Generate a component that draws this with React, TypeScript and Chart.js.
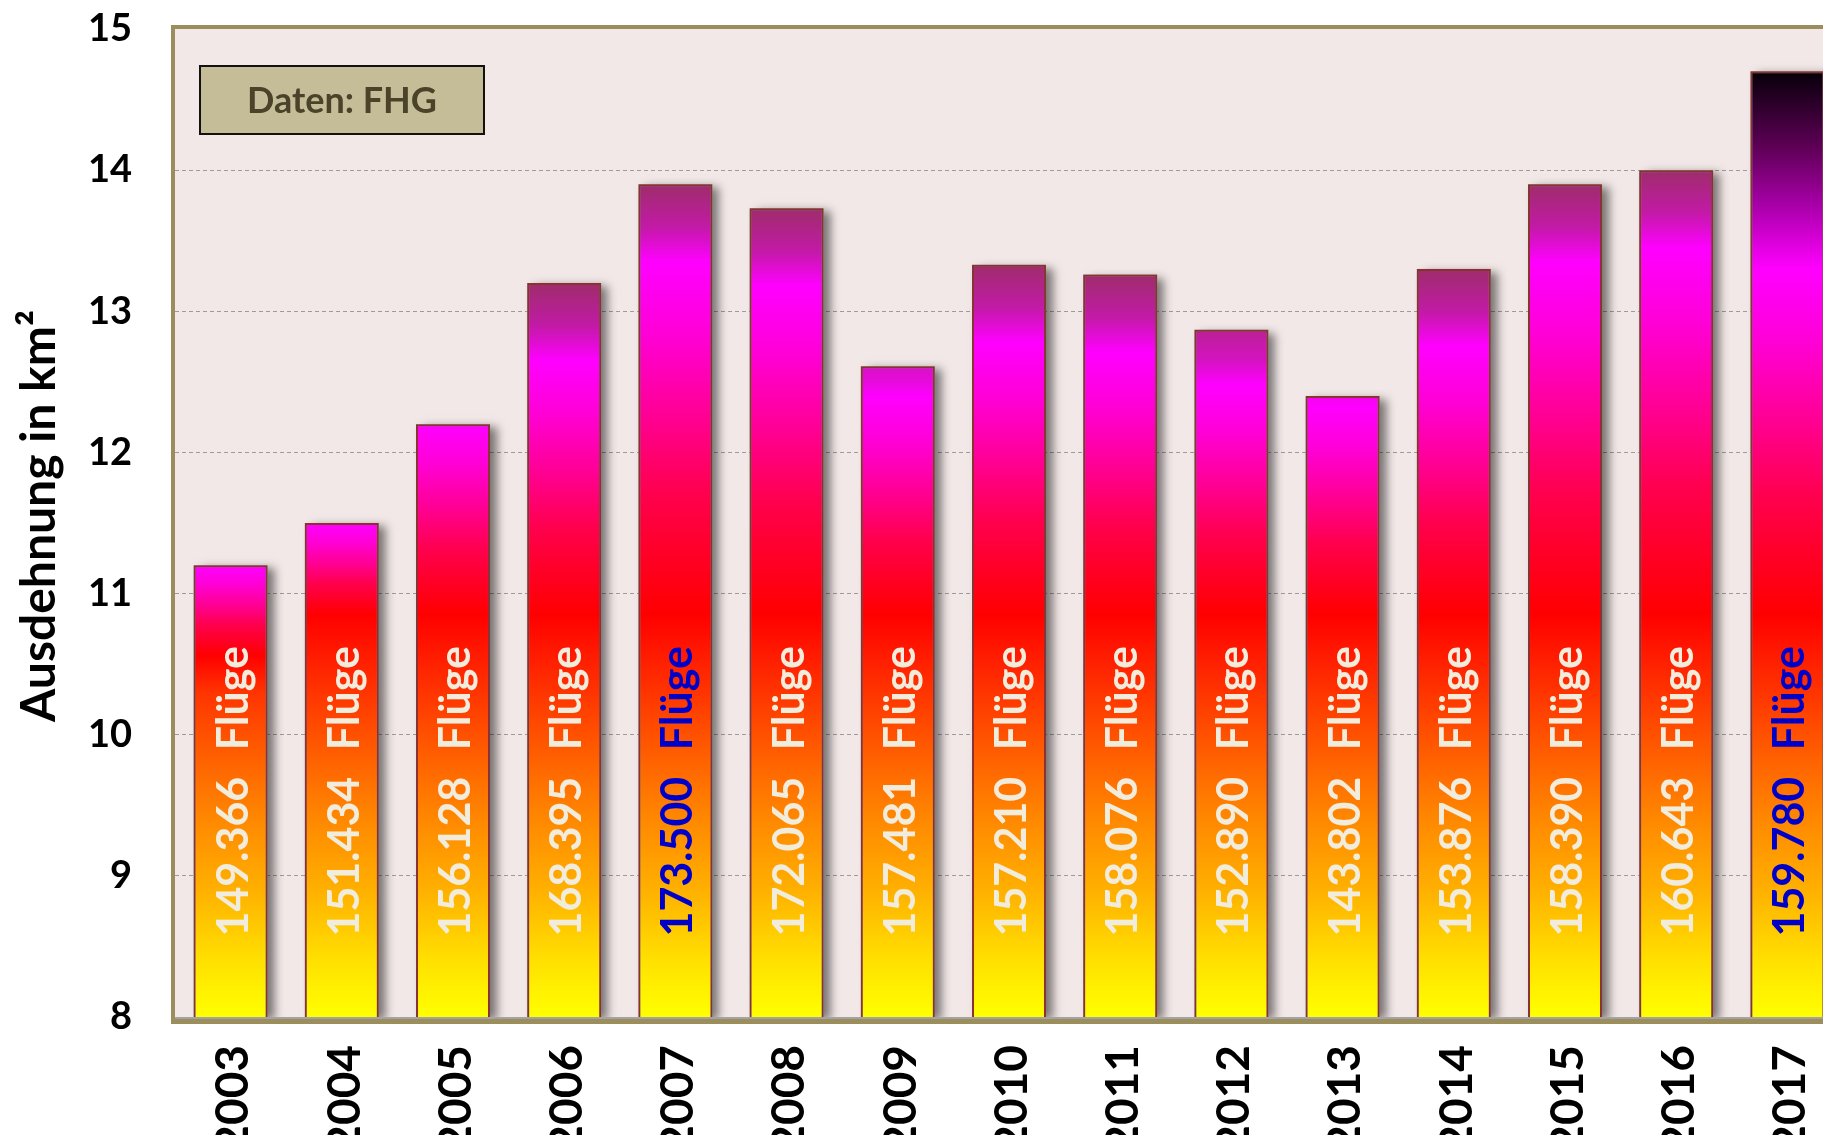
import React, { useEffect, useRef } from 'react';
import { Chart, registerables } from 'chart.js';

Chart.register(...registerables);

// ---- data ----
const years = ['2003', '2004', '2005', '2006', '2007', '2008', '2009', '2010', '2011', '2012', '2013', '2014', '2015', '2016', '2017'];
const extentKm2 = [11.2, 11.5, 12.2, 13.2, 13.9, 13.73, 12.61, 13.33, 13.26, 12.87, 12.4, 13.3, 13.9, 14.0, 14.7];
const flights = ['149.366', '151.434', '156.128', '168.395', '173.500', '172.065', '157.481', '157.210', '158.076', '152.890', '143.802', '153.876', '158.390', '160.643', '159.780'];
const highlighted = [false, false, false, false, true, false, false, false, false, false, false, false, false, false, true];
const flightsWord = 'Flüge';
const yMin = 8;
const yMax = 15;
const yStep = 1;
const yTitle = 'Ausdehnung in km²';
const sourceNote = 'Daten: FHG';

const FONT = 'Lato, "Open Sans", sans-serif';
const CANVAS_W = 1870;
const CANVAS_H = 1165;

function clamp(v: number, a: number, b: number) {
  return Math.max(a, Math.min(b, v));
}
function hex(c: string) {
  const n = parseInt(c.slice(1), 16);
  return [(n >> 16) & 255, (n >> 8) & 255, n & 255];
}
function mix(a: string, b: string, t: number) {
  const A = hex(a), B = hex(b);
  const r = A.map((v, i) => Math.round(v + (B[i] - v) * t));
  return `rgb(${r[0]},${r[1]},${r[2]})`;
}

function barGradient(chart: any, top: number, last: boolean) {
  const ctx = chart.ctx as CanvasRenderingContext2D;
  const ys = chart.scales.y;
  const y0 = ys.getPixelForValue(yMin);
  const y1 = ys.getPixelForValue(top);
  const g = ctx.createLinearGradient(0, y0, 0, y1);
  const span = top - yMin;
  let stops: [number, string][] = [];
  const low: [number, string][] = [
    [8.0, '#ffff00'],
    [8.4, '#ffe000'],
    [8.9, '#ffb000'],
    [9.4, '#ff8800'],
    [9.9, '#ff5a00'],
    [10.3, '#ff3400'],
  ];
  if (last) {
    stops = [
      ...low,
      [10.85, '#ff0000'],
      [11.7, '#ff0050'],
      [12.2, '#ff0090'],
      [12.8, '#ff00d8'],
      [13.3, '#ff00ff'],
      [13.75, '#a800a8'],
      [14.15, '#600058'],
      [14.7, '#050008'],
    ];
  } else {
    const t = clamp((top - 12.3) / 0.8, 0, 1);
    const M = top - 0.55 * t;
    const R = Math.min(10.85, M - 0.64);
    stops = [
      ...low,
      [R, '#ff0000'],
      [R + 0.35 * (M - R), '#ff0050'],
      [R + 0.55 * (M - R), '#ff0090'],
      [R + 0.8 * (M - R), '#ff00d8'],
      [M, '#ff00ff'],
    ];
    if (t > 0) {
      stops.push([M + 0.45 * (top - M), mix('#ff00ff', '#c21aa6', t)]);
      stops.push([top, mix('#ff00ff', '#9e2d6a', t)]);
    }
  }
  let prev = 0;
  for (const [v, c] of stops) {
    const f = clamp((v - yMin) / span, prev, 1);
    prev = f;
    g.addColorStop(f, c);
  }
  return g;
}

const decorPlugin = {
  id: 'decor',
  beforeDraw(chart: any) {
    const { ctx, chartArea } = chart;
    if (!chartArea) return;
    ctx.save();
    ctx.fillStyle = '#f2e8e7';
    ctx.fillRect(chartArea.left, chartArea.top, chartArea.right - chartArea.left, chartArea.bottom - chartArea.top);
    ctx.restore();
  },
  beforeDatasetsDraw(chart: any) {
    const { ctx, chartArea } = chart;
    const meta = chart.getDatasetMeta(0);
    ctx.save();
    ctx.beginPath();
    ctx.rect(chartArea.left, chartArea.top, chartArea.right - chartArea.left, chartArea.bottom - chartArea.top);
    ctx.clip();
    ctx.shadowColor = 'rgba(0,0,0,0.5)';
    ctx.shadowBlur = 9;
    ctx.shadowOffsetX = 7;
    ctx.shadowOffsetY = 3;
    ctx.fillStyle = '#888';
    meta.data.forEach((el: any) => {
      const p = el.getProps(['x', 'y', 'base', 'width'], true);
      const bottom = Math.min(p.base, chartArea.bottom);
      ctx.fillRect(p.x - p.width / 2, p.y, p.width, bottom - p.y);
    });
    ctx.restore();
  },
  afterDatasetsDraw(chart: any) {
    const { ctx, chartArea } = chart;
    const ys = chart.scales.y;
    const meta = chart.getDatasetMeta(0);
    // in-bar labels
    ctx.save();
    ctx.font = `bold 43px ${FONT}`;
    ctx.textAlign = 'left';
    ctx.textBaseline = 'alphabetic';
    meta.data.forEach((el: any, i: number) => {
      ctx.fillStyle = highlighted[i] ? '#0000c8' : '#f1ecdc';
      ctx.save();
      ctx.translate(el.x + 17, ys.getPixelForValue(8.57));
      ctx.rotate(-Math.PI / 2);
      ctx.fillText(flights[i], 0, 0);
      ctx.restore();
      ctx.save();
      ctx.translate(el.x + 17, ys.getPixelForValue(9.89));
      ctx.rotate(-Math.PI / 2);
      ctx.fillText(flightsWord, 0, 0);
      ctx.restore();
    });
    ctx.restore();

    // plot frame
    const L = chartArea.left, T = chartArea.top, B = chartArea.bottom;
    const W = chart.width;
    ctx.save();
    ctx.fillStyle = '#a3a3a3';
    ctx.fillRect(L, B, W, 2);
    ctx.fillStyle = '#9b8e5c';
    ctx.fillRect(L - 4, T - 4, 4, B + 7 - (T - 4));
    ctx.fillRect(L - 4, T - 4, W, 4);
    ctx.fillRect(L - 4, B + 2, W, 5);
    ctx.restore();
  },
  afterDraw(chart: any) {
    const { ctx, chartArea } = chart;
    // source box
    ctx.save();
    const bx = chartArea.left + 25, by = chartArea.top + 37, bw = 284, bh = 68;
    ctx.fillStyle = '#c5bd98';
    ctx.fillRect(bx, by, bw, bh);
    ctx.strokeStyle = '#111';
    ctx.lineWidth = 2;
    ctx.strokeRect(bx, by, bw, bh);
    ctx.fillStyle = '#4b4329';
    ctx.font = `bold 36px ${FONT}`;
    ctx.textAlign = 'center';
    ctx.textBaseline = 'middle';
    ctx.fillText(sourceNote, bx + bw / 2, by + bh / 2 + 1);
    ctx.restore();

    // y-axis title
    ctx.save();
    ctx.font = `bold 48px ${FONT}`;
    ctx.fillStyle = '#000';
    ctx.textAlign = 'center';
    ctx.textBaseline = 'alphabetic';
    ctx.translate(55, (chartArea.top + chartArea.bottom) / 2 - 7);
    ctx.rotate(-Math.PI / 2);
    ctx.fillText(yTitle, 0, 0);
    ctx.restore();
  },
};

export default function App() {
  const ref = useRef<HTMLCanvasElement | null>(null);

  useEffect(() => {
    document.documentElement.style.overflow = 'hidden';
    document.body.style.overflow = 'hidden';
    const canvas = ref.current!;
    const chart = new Chart(canvas, {
      type: 'bar',
      data: {
        labels: years,
        datasets: [
          {
            data: extentKm2,
            backgroundColor: (c: any) => {
              const ch = c.chart;
              if (!ch.chartArea || c.type !== 'data') return '#ff0000';
              return barGradient(ch, extentKm2[c.dataIndex], c.dataIndex === years.length - 1);
            },
            borderColor: '#8a3232',
            borderWidth: 2,
            borderSkipped: false,
            barPercentage: 0.665,
            categoryPercentage: 1,
          },
        ],
      },
      options: {
        responsive: false,
        animation: false,
        devicePixelRatio: 1,
        layout: { padding: { top: 29, right: CANVAS_W - 1843, left: 0, bottom: 0 } },
        plugins: {
          legend: { display: false },
          tooltip: { enabled: false },
          title: { display: false },
        },
        scales: {
          x: {
            grid: { display: false, drawTicks: false },
            border: { display: false },
            ticks: {
              autoSkip: false,
              maxRotation: 90,
              minRotation: 90,
              padding: 28,
              labelOffset: 3,
              color: '#000',
              font: { family: FONT, size: 46, weight: 'bold' },
            },
            afterFit: (s: any) => {
              s.height = CANVAS_H - 1017;
              s.paddingLeft = 0;
              s.paddingRight = 0;
            },
          },
          y: {
            min: yMin,
            max: yMax,
            ticks: {
              stepSize: yStep,
              padding: 43,
              color: '#000',
              font: { family: FONT, size: 38, weight: 'bold' },
            },
            grid: {
              drawTicks: false,
              lineWidth: 1,
              color: (c: any) => (c.tick && (c.tick.value === yMin || c.tick.value === yMax) ? 'rgba(0,0,0,0)' : '#9c9c9c'),
            },
            border: { display: false, dash: [4, 3] },
            afterFit: (s: any) => {
              s.width = 175;
              s.paddingTop = 0;
              s.paddingBottom = 0;
            },
          },
        },
      },
      plugins: [decorPlugin],
    } as any);
    return () => chart.destroy();
  }, []);

  return (
    <div style={{ position: 'fixed', left: 0, top: 0, width: CANVAS_W, height: CANVAS_H }}>
      <canvas ref={ref} width={CANVAS_W} height={CANVAS_H} style={{ width: CANVAS_W, height: CANVAS_H, display: 'block' }} />
    </div>
  );
}
